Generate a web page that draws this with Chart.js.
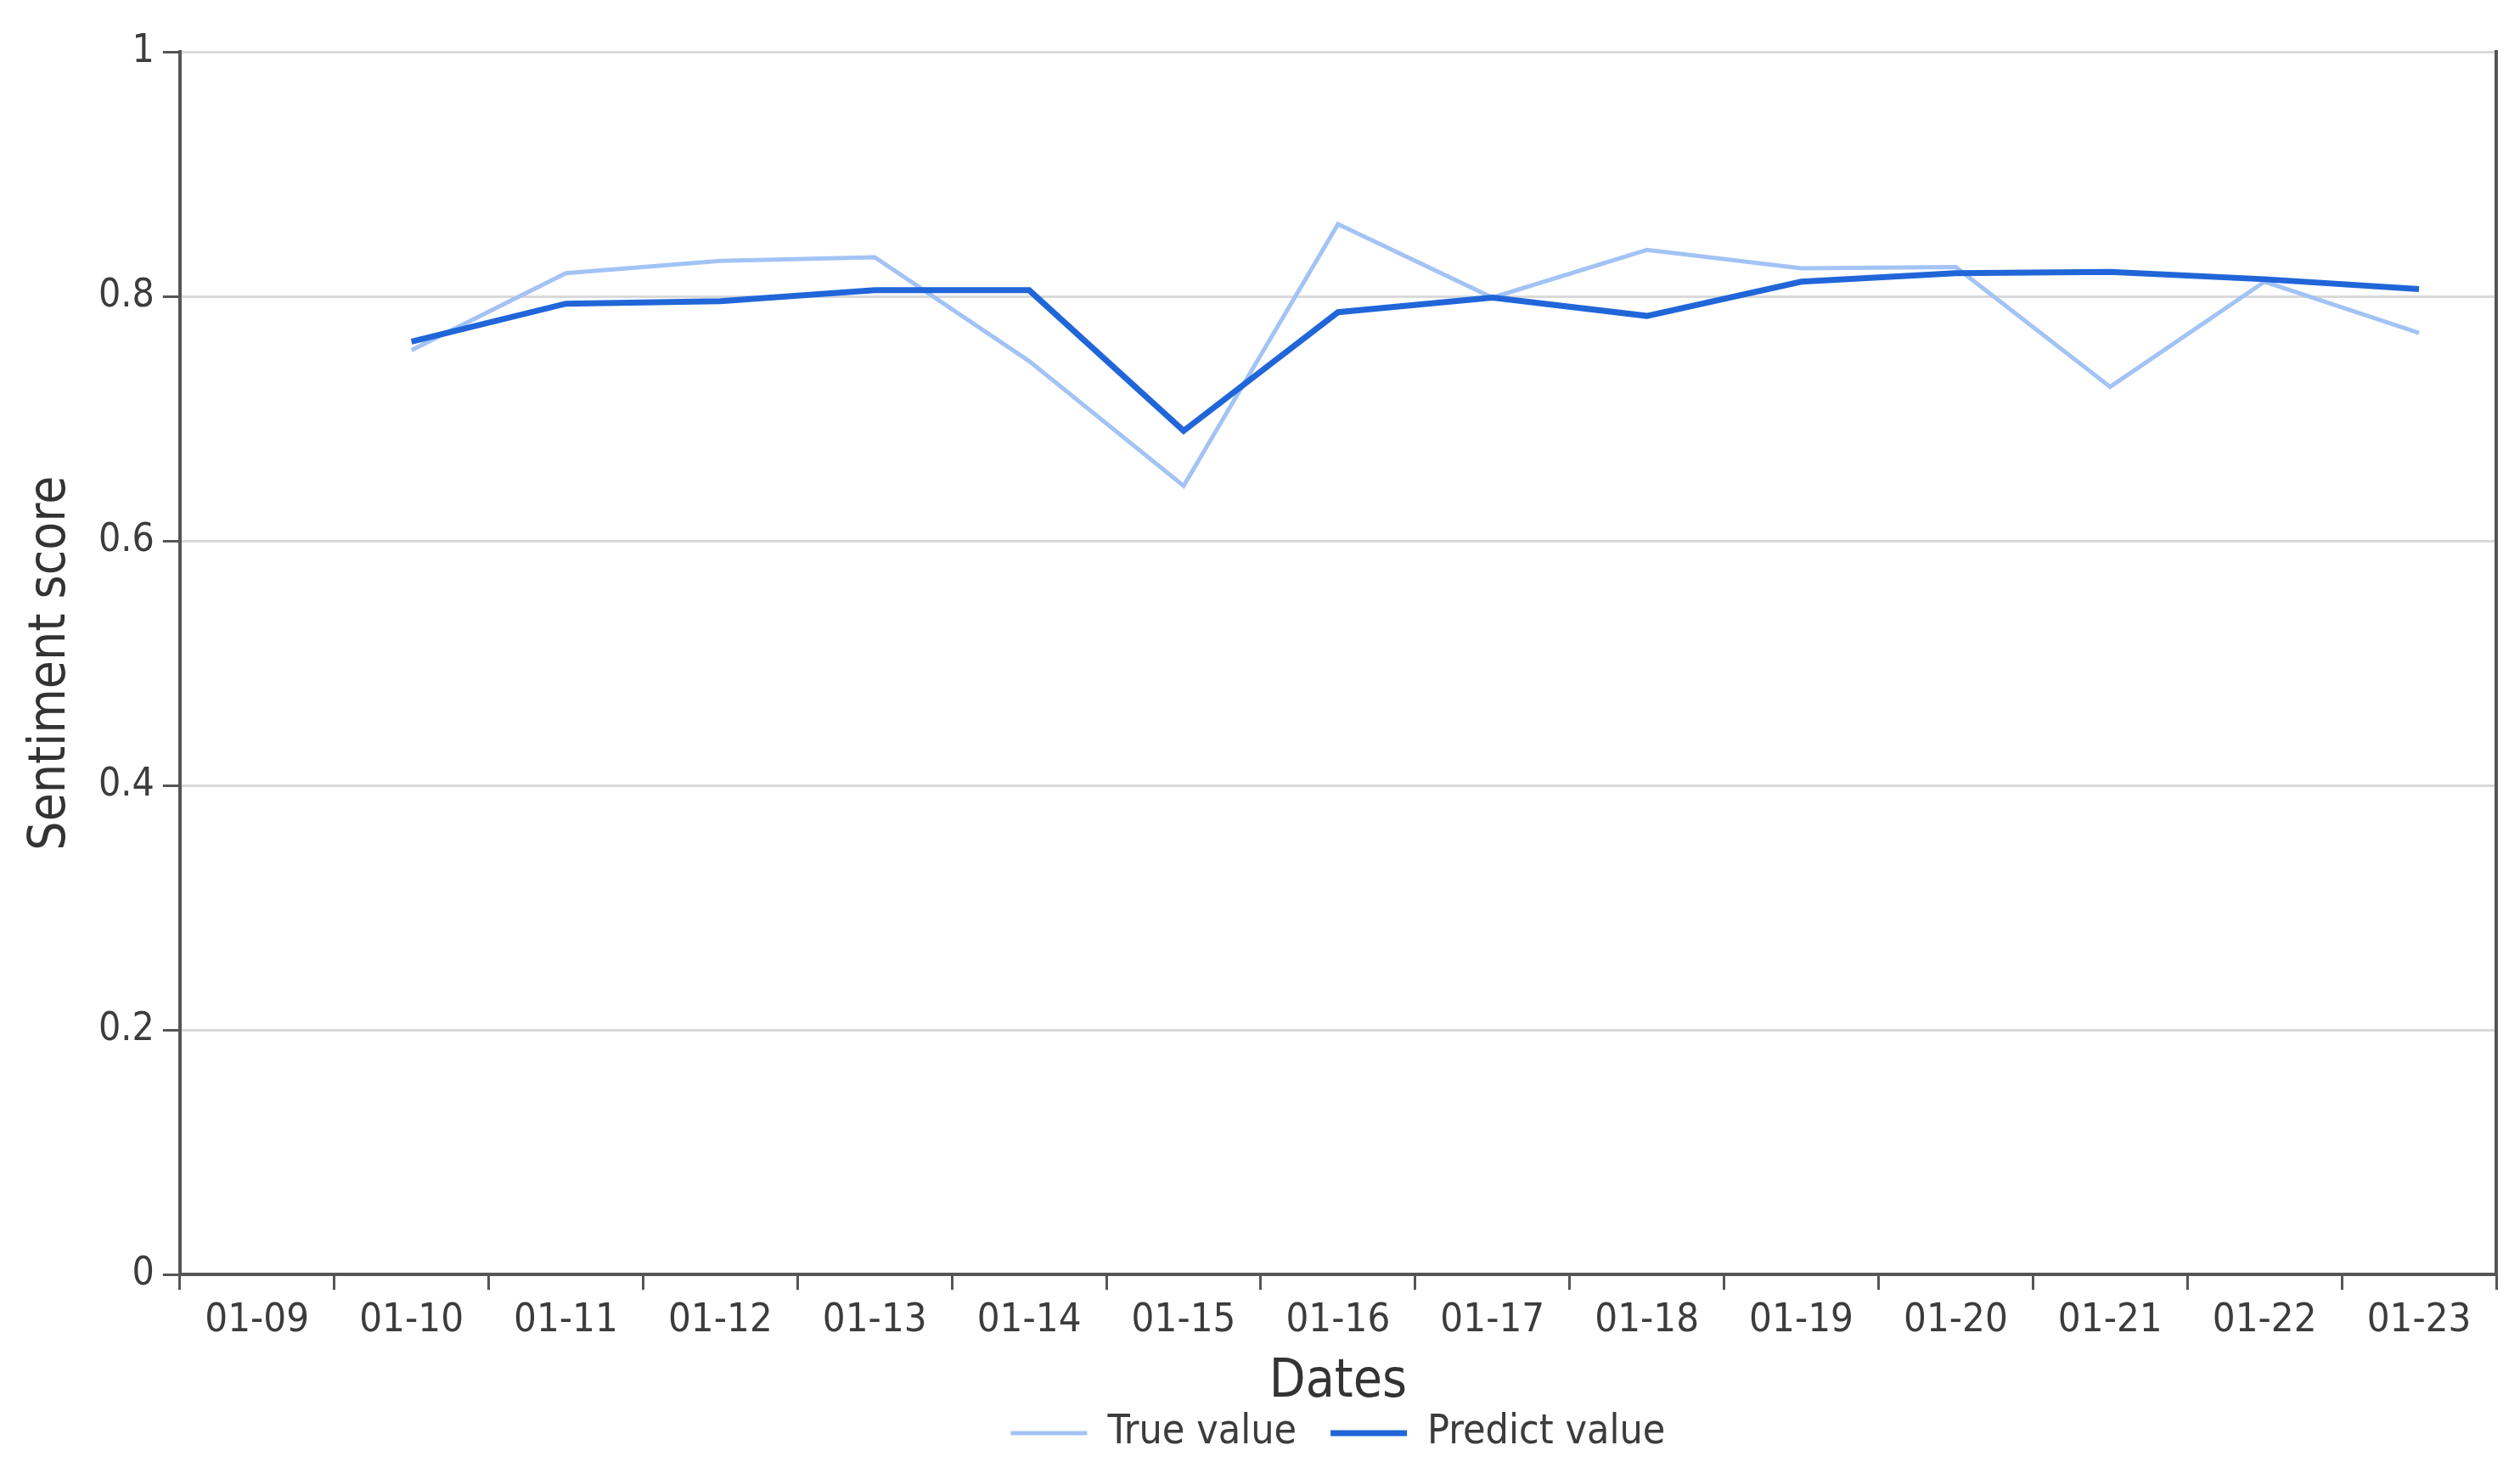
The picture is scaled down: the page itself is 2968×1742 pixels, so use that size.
<!DOCTYPE html>
<html>
<head>
<meta charset="utf-8">
<script src="https://cdn.jsdelivr.net/npm/chart.js@4.4.1/dist/chart.umd.min.js"></script>
<style>
  html, body { margin: 0; padding: 0; background: #fff; }
</style>
</head>
<body>
<canvas id="sentChart" width="2968" height="1742"></canvas>
<script>
// dates on the x axis
var dates = ['01-09', '01-10', '01-11', '01-12', '01-13', '01-14', '01-15', '01-16',
  '01-17', '01-18', '01-19', '01-20', '01-21', '01-22', '01-23'];

// sentiment scores
var trueValues = [null, 0.756, 0.819, 0.829, 0.832, 0.747, 0.645, 0.859,
  0.799, 0.838, 0.823, 0.824, 0.726, 0.812, 0.770];
var predictValues = [null, 0.763, 0.794, 0.796, 0.805, 0.805, 0.690, 0.787,
  0.799, 0.784, 0.812, 0.819, 0.820, 0.814, 0.806];

var yTicks = [0, 0.2, 0.4, 0.6, 0.8, 1];

var fontFam = "'Liberation Sans Narrow', 'DejaVu Sans Condensed', 'Open Sans', sans-serif";
var axisCol = '#555555';
var textCol = '#3c3c3c';

// centre the legend under the plot area instead of the whole canvas
var legendCenter = {
  id: 'legendCenter',
  afterLayout: function (chart) {
    var lg = chart.legend, ca = chart.chartArea;
    lg.left = ca.left;
    lg.right = ca.right;
    lg.width = ca.right - ca.left;
  }
};

var sentChart = new Chart(document.getElementById('sentChart'), {
  type: 'line',
  data: {
    labels: dates,
    datasets: [{
      label: 'True value',
      data: trueValues,
      borderColor: '#a3c3f5',
      backgroundColor: '#a3c3f5',
      borderWidth: 5,
      pointRadius: 0,
      tension: 0,
      order: 1
    }, {
      label: 'Predict value',
      data: predictValues,
      borderColor: '#2166d8',
      backgroundColor: '#2166d8',
      borderWidth: 7,
      pointRadius: 0,
      tension: 0,
      order: 0
    }]
  },
  plugins: [legendCenter],
  options: {
    responsive: false,
    animation: false,
    layout: { padding: { left: 24, right: 20, top: 61, bottom: 20 } },
    plugins: {
      tooltip: { enabled: false },
      legend: {
        position: 'bottom',
        labels: {
          usePointStyle: true,
          pointStyle: 'line',
          pointStyleWidth: 90,
          padding: 40,
          color: textCol,
          font: { family: fontFam, size: 48 },
          sort: function (a, b) { return a.datasetIndex - b.datasetIndex; }
        }
      }
    },
    scales: {
      x: {
        offset: true,
        grid: {
          offset: true,
          drawOnChartArea: false,
          drawTicks: true,
          tickLength: 18,
          tickColor: axisCol,
          lineWidth: 3
        },
        border: { color: axisCol, width: 4 },
        ticks: {
          color: textCol,
          font: { family: fontFam, size: 47 },
          maxRotation: 0,
          autoSkip: false,
          padding: 8
        },
        title: {
          display: true,
          text: 'Dates',
          color: '#333333',
          font: { family: fontFam, size: 62 },
          padding: { top: 0, bottom: -42 }
        }
      },
      y: {
        min: 0,
        max: 1,
        afterBuildTicks: function (scale) {
          scale.ticks = yTicks.map(function (v) { return { value: v }; });
        },
        grid: {
          color: '#d9d9d9',
          lineWidth: 3,
          tickLength: 20,
          tickColor: axisCol
        },
        border: { color: axisCol, width: 4 },
        ticks: {
          color: textCol,
          font: { family: fontFam, size: 46 },
          padding: 10,
          callback: function (v) { return String(+Number(v).toFixed(1)); }
        },
        title: {
          display: true,
          text: 'Sentiment score',
          color: '#333333',
          font: { family: fontFam, size: 60 },
          padding: { top: 0, bottom: 10 }
        }
      },
      yRight: {
        position: 'right',
        min: 0,
        max: 1,
        grid: { display: false },
        ticks: { display: false },
        border: { display: true, color: axisCol, width: 4 }
      }
    }
  }
});
</script>
</body>
</html>
